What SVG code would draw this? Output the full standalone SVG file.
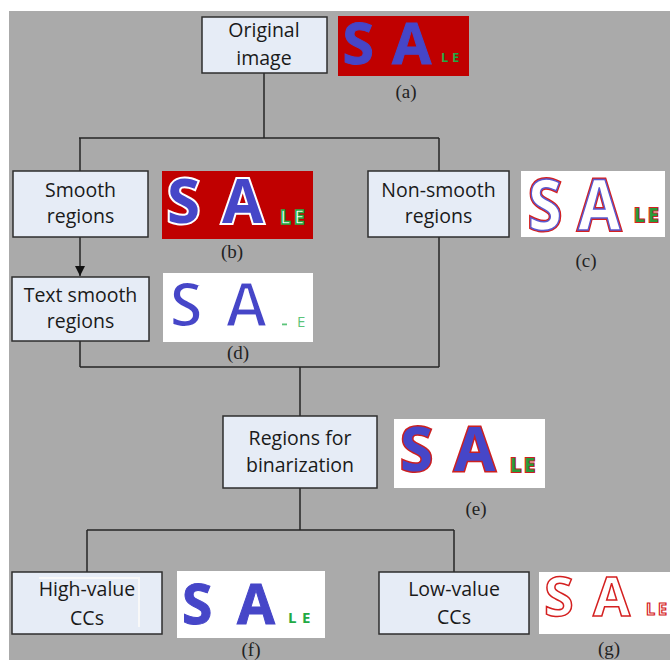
<svg xmlns="http://www.w3.org/2000/svg" width="670" height="660" viewBox="0 0 670 660">
<style>
.box{fill:#e6ecf6;stroke:#2e2e2e;stroke-width:1.5}
.lbl{font-family:"Open Sans","Noto Sans","DejaVu Sans",sans-serif;font-size:19.5px;fill:#1a1a1a;text-anchor:middle}
.cap{font-family:"Liberation Serif","Times New Roman",serif;font-size:19px;fill:#222;text-anchor:middle}
.big{font-family:"Open Sans","DejaVu Sans",sans-serif;font-weight:700}
.conn{fill:none;stroke:#262626;stroke-width:1.5}
</style>
<defs>
<marker id="arr" markerWidth="10" markerHeight="10" refX="10" refY="5" orient="auto" markerUnits="userSpaceOnUse" viewBox="0 0 10 10">
<path d="M0,0 L10,5 L0,10 Z" fill="#111"/>
</marker>
</defs>
<rect x="0" y="0" width="670" height="660" fill="#ffffff"/>
<rect x="9" y="11" width="661" height="649" fill="#aaaaaa"/>

<g id="connectors">
<path class="conn" d="M264,73 V138 M79,138 H439 M80,138 V171 M439,138 V171"/>
<path class="conn" d="M80,237 V276" marker-end="url(#arr)"/>
<path class="conn" d="M80,341 V367 M439,237 V367 M80,367 H439 M300,367 V416"/>
<path class="conn" d="M300,488 V530 M87,530 H454 M87,530 V572 M454,530 V572"/>
</g>

<g id="node-original">
<rect class="box" x="202" y="17" width="125" height="56"/>
<text class="lbl" x="264" y="37">Original</text>
<text class="lbl" x="264" y="65">image</text>
</g>
<g id="img-a">
<rect x="338" y="16" width="131" height="60" fill="#c00000"/>
<g class="big" fill="#4646c8" stroke="#4646c8" stroke-width="1" font-size="57"><text x="342.5" y="64">S</text><text x="392" y="64">A</text></g>
<g class="big" fill="#22aa44" font-size="13"><text x="441" y="62">L</text><text x="452" y="62">E</text></g>
<text class="cap" x="406" y="98">(a)</text>
</g>

<g id="node-smooth">
<rect class="box" x="13" y="171" width="135" height="66"/>
<text class="lbl" x="80.5" y="197">Smooth</text>
<text class="lbl" x="80.5" y="223">regions</text>
</g>
<g id="img-b">
<rect x="162" y="171" width="151" height="68" fill="#c00000"/>
<g class="big" fill="#4646c8" stroke="#ffffff" stroke-width="4" paint-order="stroke" font-size="60"><text x="167" y="223">S</text><text x="222" y="223">A</text></g>
<g class="big" fill="#ffffff" stroke="#22aa44" stroke-width="1.5" font-size="19"><text x="280" y="224">L</text><text x="294" y="224">E</text></g>
<text class="cap" x="232" y="258">(b)</text>
</g>

<g id="node-nonsmooth">
<rect class="box" x="368" y="171" width="141" height="66"/>
<text class="lbl" x="438.5" y="197">Non-smooth</text>
<text class="lbl" x="438.5" y="223">regions</text>
</g>
<g id="img-c">
<rect x="521" y="171" width="144" height="66" fill="#ffffff"/>
<g class="big" font-size="70" fill="none" stroke="#d42020" stroke-width="4">
<text transform="translate(528,230) scale(0.88,1)">S</text><text transform="translate(578,230) scale(0.88,1)">A</text>
</g>
<g class="big" font-size="70" fill="#ffffff" stroke="#5a5ad0" stroke-width="1.5">
<text transform="translate(528,230) scale(0.88,1)">S</text><text transform="translate(578,230) scale(0.88,1)">A</text>
</g>
<g class="big" fill="#2a9a3a" stroke="#d42020" stroke-width="2" paint-order="stroke" font-size="19"><text x="634" y="222">L</text><text x="648" y="222">E</text></g>
<text class="cap" x="586" y="267">(c)</text>
</g>

<g id="node-textsmooth">
<rect class="box" x="12" y="277" width="137" height="64"/>
<text class="lbl" x="80.5" y="302">Text smooth</text>
<text class="lbl" x="80.5" y="328">regions</text>
</g>
<g id="img-d">
<rect x="163" y="273" width="150" height="69" fill="#ffffff"/>
<g class="big" fill="#4646c8" stroke="#ffffff" stroke-width="3" font-size="62"><text x="169" y="327">S</text><text x="225" y="327">A</text></g>
<rect x="282" y="323.5" width="5" height="1.8" fill="#5cc47a"/>
<text x="297" y="327" font-family="Open Sans, sans-serif" font-size="15" fill="#5cc47a">E</text>
<text class="cap" x="238" y="359">(d)</text>
</g>

<g id="node-binarization">
<rect class="box" x="223" y="416" width="154" height="72"/>
<text class="lbl" x="300" y="445">Regions for</text>
<text class="lbl" x="300" y="472">binarization</text>
</g>
<g id="img-e">
<rect x="394" y="419" width="151" height="69" fill="#ffffff"/>
<g class="big" fill="#4646c8" stroke="#cc2020" stroke-width="3" paint-order="stroke" font-size="60"><text x="400" y="471">S</text><text x="454" y="471">A</text></g>
<g class="big" fill="#2a9a3a" stroke="#cc2020" stroke-width="2" paint-order="stroke" font-size="20"><text x="510" y="472">L</text><text x="524" y="472">E</text></g>
<text class="cap" x="476" y="515">(e)</text>
</g>

<g id="node-high">
<rect class="box" x="12" y="572" width="150" height="62"/>
<path d="M39,578 H139 V627" fill="none" stroke="#f8f8f8" stroke-width="2"/>
<text class="lbl" x="87" y="596">High-value</text>
<text class="lbl" x="87" y="625">CCs</text>
</g>
<g id="img-f">
<rect x="177" y="571" width="148" height="67" fill="#ffffff"/>
<g class="big" fill="#4646c8" stroke="#4646c8" stroke-width="1" font-size="55"><text x="182" y="624">S</text><text x="237" y="624">A</text></g>
<g class="big" fill="#22aa44" font-size="15"><text x="288" y="623">L</text><text x="302" y="623">E</text></g>
<text class="cap" x="251" y="656">(f)</text>
</g>

<g id="node-low">
<rect class="box" x="379" y="572" width="150" height="62"/>
<text class="lbl" x="454" y="596">Low-value</text>
<text class="lbl" x="454" y="624">CCs</text>
</g>
<g id="img-g">
<rect x="539" y="572" width="131" height="62" fill="#ffffff"/>
<g class="big" fill="#ffffff" stroke="#d42020" stroke-width="1.5" font-size="54"><text x="544" y="616">S</text><text x="593" y="616">A</text></g>
<g class="big" fill="#ffffff" stroke="#d42020" stroke-width="1.2" font-size="16"><text x="646" y="615">L</text><text x="658" y="615">E</text></g>
<text class="cap" x="609" y="655">(g)</text>
</g>
</svg>
